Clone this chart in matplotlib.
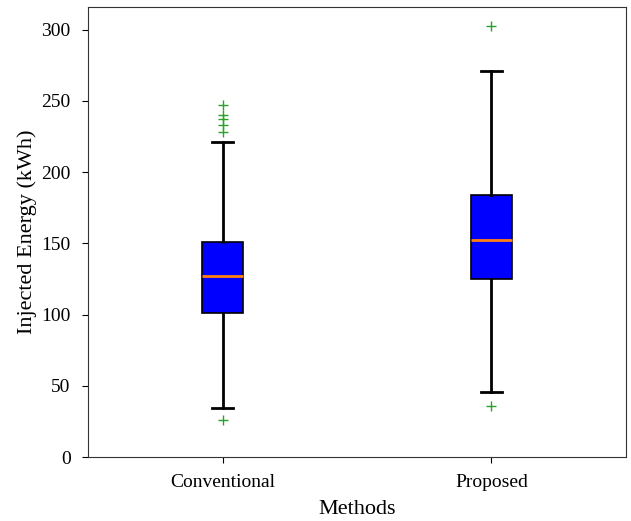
import matplotlib
matplotlib.use("Agg")
import matplotlib.pyplot as plt

plt.rcParams['font.family'] = ['Liberation Serif', 'DejaVu Serif']

methods = ["Conventional", "Proposed"]
q1 = [101.4, 124.8]
med = [127.2, 152.5]
q3 = [151.0, 183.8]
whislo = [34.2, 45.9]
whishi = [221.3, 270.7]
fliers = [
    [247.3, 240.3, 237.3, 233.3, 227.9, 26.0],
    [302.3, 36.0],
]

stats = []
for i, name in enumerate(methods):
    stats.append({
        "label": name, "q1": q1[i], "med": med[i], "q3": q3[i],
        "whislo": whislo[i], "whishi": whishi[i], "fliers": fliers[i],
    })

fig = plt.figure(figsize=(6.31, 5.21), dpi=100)
ax = fig.add_axes([0.1395, 0.1228, 0.8525, 0.8638])

ax.bxp(stats, positions=[1, 2], widths=0.15, patch_artist=True,
       boxprops=dict(facecolor="blue", edgecolor="black", linewidth=1.2),
       medianprops=dict(color="#ff7f0e", linewidth=2),
       whiskerprops=dict(color="black", linewidth=2),
       capprops=dict(color="black", linewidth=2),
       flierprops=dict(marker="+", markeredgecolor="#2ca02c", markersize=7,
                       linestyle="none"))

ax.set_xlim(0.5, 2.5)
ax.set_ylim(0, 316)
ax.set_yticks([0, 50, 100, 150, 200, 250, 300])
ax.tick_params(labelsize=14, length=4.5, pad=8)
ax.set_xlabel("Methods", fontsize=16, labelpad=6)
ax.set_ylabel("Injected Energy (kWh)", fontsize=16, labelpad=3)
for s in ax.spines.values():
    s.set_color("#333333")

fig.savefig("out.png", dpi=100)
